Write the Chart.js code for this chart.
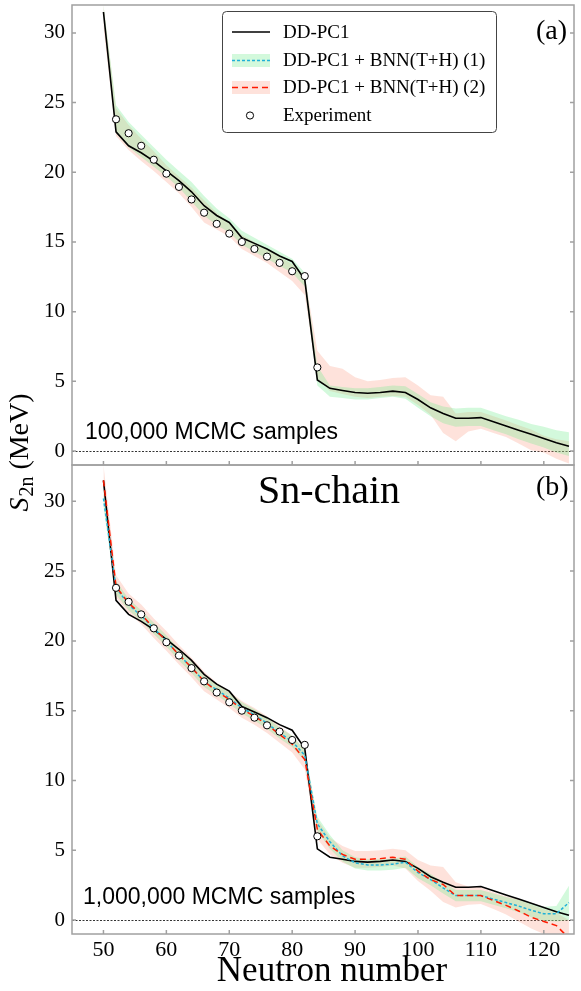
<!DOCTYPE html>
<html>
<head>
<meta charset="utf-8">
<script src="https://cdn.jsdelivr.net/npm/chart.js@4.4.1/dist/chart.umd.min.js"></script>
<style>
  html, body { margin: 0; padding: 0; background: #fff; }
  #wrap { position: relative; width: 581px; height: 991px; }
</style>
</head>
<body>
<div id="wrap"><canvas id="chart" width="581" height="991"></canvas></div>
<script>
// neutron numbers of the Sn chain
const neutrons = [50, 52, 54, 56, 58, 60, 62, 64, 66, 68, 70, 72, 74, 76, 78, 80, 82, 84, 86,
  88, 90, 92, 94, 96, 98, 100, 102, 104, 106, 108, 110, 112, 114, 116, 118, 120, 122, 124];

// DD-PC1 (same in both panels)
const ddpc1 = [31.5, 22.9, 21.9, 21.4, 20.8, 20.1, 19.4, 18.6, 17.6, 16.9, 16.4, 15.3, 14.9, 14.5,
  14.0, 13.6, 12.3, 5.1, 4.5, 4.35, 4.2, 4.15, 4.2, 4.3, 4.2, 3.7, 3.1, 2.7, 2.35, 2.35, 2.4,
  2.1, 1.8, 1.5, 1.2, 0.9, 0.6, 0.35];

// experiment
const expN = [52, 54, 56, 58, 60, 62, 64, 66, 68, 70, 72, 74, 76, 78, 80, 82, 84];
const expS2n = [23.8, 22.8, 21.9, 20.9, 19.9, 18.95, 18.05, 17.1, 16.3, 15.6, 15.0, 14.5, 13.95,
  13.5, 12.9, 12.55, 6.0];

// panel (a): 100,000 MCMC samples, bands only
const a1Low = [31.0, 22.8, 21.8, 21.1, 20.4, 19.7, 18.9, 17.9, 16.9, 16.2, 15.7, 14.8, 14.3, 13.8,
  13.3, 12.8, 11.8, 4.7, 3.9, 3.8, 3.7, 3.7, 3.8, 3.9, 3.75, 3.1, 2.5, 2.0, 1.75, 1.8, 1.8, 1.5,
  1.2, 0.85, 0.55, 0.25, -0.1, -0.35];
const a1High = [32.0, 24.8, 23.6, 22.7, 21.8, 20.9, 20.1, 19.3, 18.3, 17.4, 16.7, 15.8, 15.3, 14.8,
  14.3, 13.8, 12.8, 6.1, 4.7, 4.6, 4.5, 4.5, 4.6, 4.7, 4.65, 4.1, 3.5, 3.2, 3.05, 3.1, 3.1, 2.8,
  2.5, 2.25, 1.95, 1.75, 1.5, 1.35];
const a2Low = [30.4, 22.6, 21.6, 20.8, 20.1, 19.3, 18.5, 17.5, 16.4, 15.9, 15.4, 14.5, 14.0, 13.5,
  12.85, 12.2, 11.2, 5.2, 4.3, 4.1, 3.9, 3.8, 3.9, 3.95, 3.9, 3.3, 2.6, 1.3, 0.7, 1.4, 1.6, 1.3,
  1.0, 0.55, 0.05, -0.1, -0.55, -0.9];
const a2High = [32.0, 24.6, 23.4, 22.4, 21.5, 20.5, 19.7, 18.9, 18.0, 17.1, 16.4, 15.5, 15.0, 14.5,
  13.95, 13.4, 12.6, 7.2, 6.1, 5.9, 5.3, 5.0, 5.1, 5.25, 5.3, 4.7, 4.0, 3.9, 2.7, 2.8, 2.8, 2.5,
  2.2, 1.85, 1.55, 1.1, 0.85, 0.7];

// panel (b): 1,000,000 MCMC samples
const b1Mean = [30.2, 23.8, 22.6, 21.8, 20.9, 20.0, 19.0, 18.1, 17.1, 16.5, 15.9, 15.2, 14.7, 14.1,
  13.4, 12.8, 11.8, 6.9, 5.6, 4.6, 4.1, 3.95, 3.95, 4.0, 4.15, 3.4, 2.9, 2.3, 1.75, 1.75, 1.75,
  1.5, 1.25, 1.0, 0.7, 0.45, 0.45, 1.25];
const b1Low = [29.6, 23.3, 22.2, 21.4, 20.5, 19.6, 18.6, 17.7, 16.7, 16.1, 15.5, 14.8, 14.3, 13.7,
  13.0, 12.4, 11.4, 6.4, 5.1, 4.2, 3.7, 3.55, 3.55, 3.6, 3.75, 3.0, 2.5, 1.9, 1.35, 1.35, 1.35,
  1.1, 0.85, 0.55, 0.2, -0.05, -0.1, 0.0];
const b1High = [30.8, 24.3, 23.0, 22.2, 21.3, 20.4, 19.4, 18.5, 17.5, 16.9, 16.3, 15.6, 15.1, 14.5,
  13.8, 13.2, 12.2, 7.4, 6.1, 5.0, 4.5, 4.35, 4.35, 4.4, 4.55, 3.8, 3.3, 2.7, 2.15, 2.15, 2.15,
  1.9, 1.65, 1.45, 1.2, 0.95, 1.0, 2.45];
const b2Mean = [31.5, 23.9, 22.7, 21.9, 20.9, 20.0, 19.0, 18.1, 17.1, 16.4, 15.8, 15.1, 14.6, 14.0,
  13.3, 12.6, 11.5, 6.5, 5.3, 4.7, 4.35, 4.35, 4.4, 4.5, 4.35, 3.5, 2.9, 2.55, 1.75, 1.75, 1.75,
  1.4, 1.05, 0.65, 0.2, -0.1, -0.4, -1.3];
const b2Low = [30.3, 23.1, 22.0, 21.2, 20.2, 19.3, 18.3, 17.4, 16.4, 15.8, 15.2, 14.5, 14.0, 13.4,
  12.7, 12.0, 10.8, 5.8, 4.7, 4.1, 3.75, 3.75, 3.8, 3.9, 3.7, 2.8, 2.1, 1.3, 0.9, 1.1, 1.15, 0.8,
  0.4, -0.1, -0.6, -1.0, -1.4, -2.0];
const b2High = [32.6, 24.7, 23.4, 22.6, 21.6, 20.7, 19.7, 18.8, 17.8, 17.0, 16.4, 15.7, 15.2, 14.6,
  13.9, 13.2, 12.2, 7.2, 5.9, 5.3, 4.95, 4.95, 5.0, 5.1, 5.0, 4.3, 3.9, 3.8, 2.7, 2.4, 2.35, 2.0,
  1.7, 1.5, 1.1, 0.8, 0.5, 0.0];

const xTicks = [50, 60, 70, 80, 90, 100, 110, 120];
const yTicks = [0, 5, 10, 15, 20, 25, 30];

const GREEN = 'rgba(110, 235, 140, 0.30)';
const PINK = 'rgba(250, 140, 110, 0.25)';
const CYAN = '#1fb0d8';
const RED = '#ff1a00';
const FRAME = '#a0a0a0';
const SERIF = '"Liberation Serif", "Times New Roman", serif';
const SANS = '"Liberation Sans", Arial, sans-serif';

const pts = (xs, ys) => xs.map((x, i) => ({ x: x, y: ys[i] }));

function band(low, high, yAxisID, color) {
  return [
    { data: pts(neutrons, low), yAxisID, borderWidth: 0, pointRadius: 0, fill: false, order: 20 },
    { data: pts(neutrons, high), yAxisID, borderWidth: 0, pointRadius: 0, fill: '-1', backgroundColor: color, order: 20 }
  ];
}

function blackLine(yAxisID) {
  return { data: pts(neutrons, ddpc1), yAxisID, borderColor: '#000', borderWidth: 1.6, pointRadius: 0, fill: false, order: 5 };
}

function expPoints(yAxisID) {
  return {
    data: pts(expN, expS2n), yAxisID, showLine: false, pointRadius: 3.6, pointBorderWidth: 1,
    pointBackgroundColor: '#fff', pointBorderColor: '#000', order: 0
  };
}

const datasets = [
  ...band(a1Low, a1High, 'ya', GREEN),
  ...band(a2Low, a2High, 'ya', PINK),
  blackLine('ya'),
  expPoints('ya'),
  ...band(b1Low, b1High, 'yb', GREEN),
  ...band(b2Low, b2High, 'yb', PINK),
  blackLine('yb'),
  { data: pts(neutrons, b1Mean), yAxisID: 'yb', borderColor: CYAN, borderWidth: 1.5, borderDash: [3, 2], pointRadius: 0, fill: false, order: 3 },
  { data: pts(neutrons, b2Mean), yAxisID: 'yb', borderColor: RED, borderWidth: 1.5, borderDash: [6, 4], pointRadius: 0, fill: false, order: 2 },
  expPoints('yb')
];

function yAxis(max, weight) {
  return {
    type: 'linear', position: 'left', stack: 'panels', stackWeight: weight,
    min: -1, max: max,
    afterBuildTicks: s => { s.ticks = yTicks.map(v => ({ value: v })); },
    afterFit: s => { s.width = 72; s.paddingTop = 0; s.paddingBottom = 0; },
    grid: { display: false, drawTicks: false },
    border: { display: false },
    ticks: { color: '#000', padding: 7, font: { family: SERIF, size: 21 } }
  };
}

// frame, inward ticks, zero lines, labels, legend
const decor = {
  id: 'decor',
  beforeDatasetsDraw(chart) {
    const { ctx, chartArea: a, scales } = chart;
    ctx.save();
    ctx.strokeStyle = '#000';
    ctx.lineWidth = 0.8;
    ctx.setLineDash([2, 1.5]);
    for (const id of ['ya', 'yb']) {
      const y = Math.round(scales[id].getPixelForValue(0)) + 0.5;
      ctx.beginPath(); ctx.moveTo(a.left, y); ctx.lineTo(a.right, y); ctx.stroke();
    }
    ctx.restore();
  },
  afterDraw(chart) {
    const { ctx, chartArea: a, scales } = chart;
    const sx = scales.x;
    ctx.save();
    ctx.strokeStyle = FRAME;
    ctx.lineWidth = 1.5;
    for (const id of ['ya', 'yb']) {
      const s = scales[id];
      ctx.strokeRect(a.left, s.top, a.right - a.left, s.bottom - s.top);
      ctx.beginPath();
      for (const v of yTicks) {
        const y = s.getPixelForValue(v);
        ctx.moveTo(a.left, y); ctx.lineTo(a.left + 4, y);
        ctx.moveTo(a.right, y); ctx.lineTo(a.right - 4, y);
      }
      for (const v of xTicks) {
        const x = sx.getPixelForValue(v);
        ctx.moveTo(x, s.bottom); ctx.lineTo(x, s.bottom - 4);
      }
      ctx.stroke();
    }

    const ya = scales.ya, yb = scales.yb;
    ctx.fillStyle = '#000';
    ctx.textBaseline = 'middle';
    ctx.textAlign = 'left';
    ctx.font = '28px ' + SERIF;
    ctx.fillText('(a)', 536, ya.top + 27);
    ctx.fillText('(b)', 536, yb.top + 23);
    ctx.textAlign = 'center';
    ctx.font = '40px ' + SERIF;
    ctx.fillText('Sn-chain', 329, yb.top + 27);
    ctx.font = '35px ' + SERIF;
    ctx.fillText('Neutron number', 332, sx.bottom - 19);
    ctx.textAlign = 'left';
    ctx.font = '23px ' + SANS;
    ctx.fillText('100,000 MCMC samples', 85, ya.bottom - 32);
    ctx.fillText('1,000,000 MCMC samples', 83, yb.bottom - 36);

    // y-axis title spanning both panels
    ctx.save();
    ctx.translate(28, ya.bottom - 12);
    ctx.rotate(-Math.PI / 2);
    ctx.textBaseline = 'alphabetic';
    ctx.font = 'italic 28px ' + SERIF;
    const wS = ctx.measureText('S').width;
    ctx.font = '20px ' + SERIF;
    const wSub = ctx.measureText('2n').width;
    ctx.font = '28px ' + SERIF;
    const wRest = ctx.measureText(' (MeV)').width;
    let x0 = -(wS + wSub + wRest) / 2;
    ctx.font = 'italic 28px ' + SERIF;
    ctx.fillText('S', x0, 0);
    ctx.font = '20px ' + SERIF;
    ctx.fillText('2n', x0 + wS + 1, 5);
    ctx.font = '28px ' + SERIF;
    ctx.fillText(' (MeV)', x0 + wS + wSub + 1, 0);
    ctx.restore();

    // legend
    const L = { x: 222, y: 11, w: 274, h: 121 };
    ctx.fillStyle = '#fff';
    ctx.strokeStyle = '#444';
    ctx.lineWidth = 1;
    ctx.beginPath();
    ctx.roundRect(L.x + 0.5, L.y + 0.5, L.w, L.h, 4);
    ctx.fill(); ctx.stroke();
    const rows = [32, 60.5, 87.5, 115.5];
    const x1 = 232, x2 = 270;
    ctx.lineWidth = 1.5;
    ctx.strokeStyle = '#000';
    ctx.beginPath(); ctx.moveTo(x1, rows[0]); ctx.lineTo(x2, rows[0]); ctx.stroke();
    ctx.fillStyle = GREEN; ctx.fillRect(x1, rows[1] - 6.5, x2 - x1, 13);
    ctx.strokeStyle = CYAN; ctx.setLineDash([3, 2]);
    ctx.beginPath(); ctx.moveTo(x1, rows[1]); ctx.lineTo(x2, rows[1]); ctx.stroke();
    ctx.fillStyle = PINK; ctx.fillRect(x1, rows[2] - 6.5, x2 - x1, 13);
    ctx.strokeStyle = RED; ctx.setLineDash([6, 4]);
    ctx.beginPath(); ctx.moveTo(x1, rows[2]); ctx.lineTo(x2, rows[2]); ctx.stroke();
    ctx.setLineDash([]);
    ctx.lineWidth = 1; ctx.strokeStyle = '#000'; ctx.fillStyle = '#fff';
    ctx.beginPath(); ctx.arc(250, rows[3], 3.6, 0, Math.PI * 2); ctx.fill(); ctx.stroke();
    ctx.fillStyle = '#000';
    ctx.textAlign = 'left';
    ctx.textBaseline = 'middle';
    ctx.font = '19px ' + SERIF;
    const labels = ['DD-PC1', 'DD-PC1 + BNN(T+H) (1)', 'DD-PC1 + BNN(T+H) (2)', 'Experiment'];
    labels.forEach((t, i) => ctx.fillText(t, 283, rows[i] + 1));
    ctx.restore();
  }
};

new Chart(document.getElementById('chart'), {
  type: 'line',
  data: { datasets },
  options: {
    responsive: false,
    animation: false,
    events: [],
    layout: { padding: { left: 0, right: 7, top: 5, bottom: 0 } },
    plugins: { legend: { display: false }, tooltip: { enabled: false } },
    elements: { line: { tension: 0 } },
    scales: {
      x: {
        type: 'linear', position: 'bottom', min: 45, max: 124.8,
        afterBuildTicks: s => { s.ticks = xTicks.map(v => ({ value: v })); },
        afterFit: s => { s.height = 57; s.paddingLeft = 0; s.paddingRight = 0; },
        grid: { display: false, drawTicks: false },
        border: { display: false },
        ticks: { color: '#000', padding: 3, font: { family: SERIF, size: 22 } },
        title: { display: false }
      },
      yb: yAxis(32.6, 469),
      ya: yAxis(32, 460)
    }
  },
  plugins: [decor]
});
</script>
</body>
</html>
